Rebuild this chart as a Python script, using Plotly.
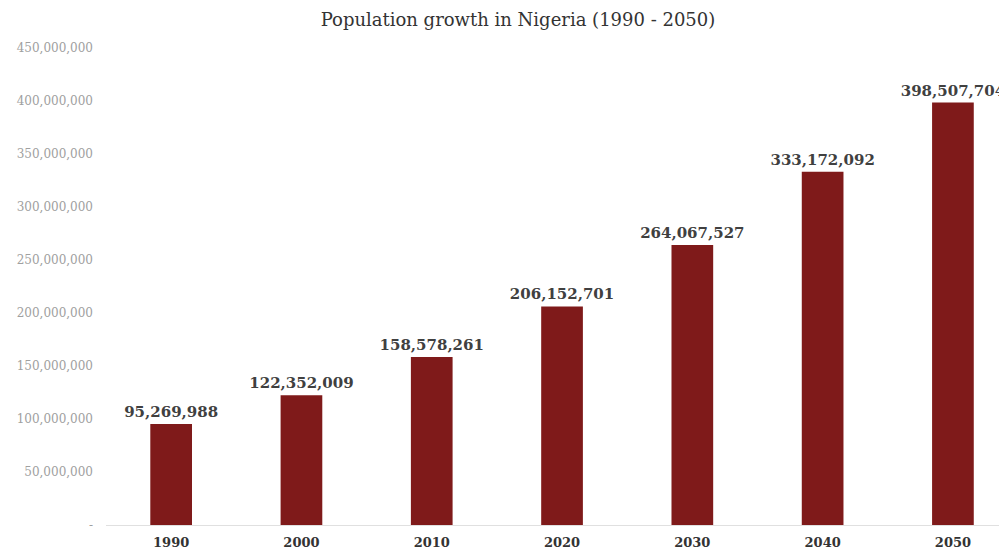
import plotly.graph_objects as go

years = ["1990", "2000", "2010", "2020", "2030", "2040", "2050"]
population = [95269988, 122352009, 158578261, 206152701, 264067527, 333172092, 398507704]
tick_vals = [0, 50000000, 100000000, 150000000, 200000000, 250000000, 300000000, 350000000, 400000000, 450000000]
tick_text = ["-", "50,000,000", "100,000,000", "150,000,000", "200,000,000", "250,000,000",
             "300,000,000", "350,000,000", "400,000,000", "450,000,000"]
title = "Population growth in Nigeria (1990 - 2050)"

serif = "'DejaVu Serif', Georgia, serif"

fig = go.Figure(go.Bar(
    x=years,
    y=population,
    marker=dict(color="#7F1A1A", line=dict(width=0)),
    text=[f"<b>{v:,}</b>" for v in population],
    textposition="outside",
    constraintext="none",
    textfont=dict(family=serif, size=15, color="#404040"),
    cliponaxis=False,
))

fig.update_layout(
    width=999, height=543,
    margin=dict(l=98, r=0, t=40, b=26),
    paper_bgcolor="white", plot_bgcolor="white",
    bargap=0.68,
    showlegend=False,
    title=dict(text=title, x=0.5105, xanchor="center", y=0.978, yanchor="middle",
               font=dict(family=serif, size=18, color="#333333")),
    xaxis=dict(
        type="category",
        range=[-0.5, 6.415],
        showgrid=False,
        showline=True, linecolor="#e0e0e0", linewidth=1,
        ticks="",
        tickvals=years,
        ticktext=[f"<b>{y}</b>" for y in years],
        tickfont=dict(family=serif, size=13, color="#333333"),
        ticklabelstandoff=5,
    ),
    yaxis=dict(
        range=[0, 450000000],
        showgrid=False,
        zeroline=False,
        showline=False,
        ticks="",
        tickvals=tick_vals,
        ticktext=tick_text,
        tickfont=dict(family=serif, size=12, color="#a0a0a0"),
        ticklabelstandoff=12,
    ),
)

fig.write_html("out.html")
